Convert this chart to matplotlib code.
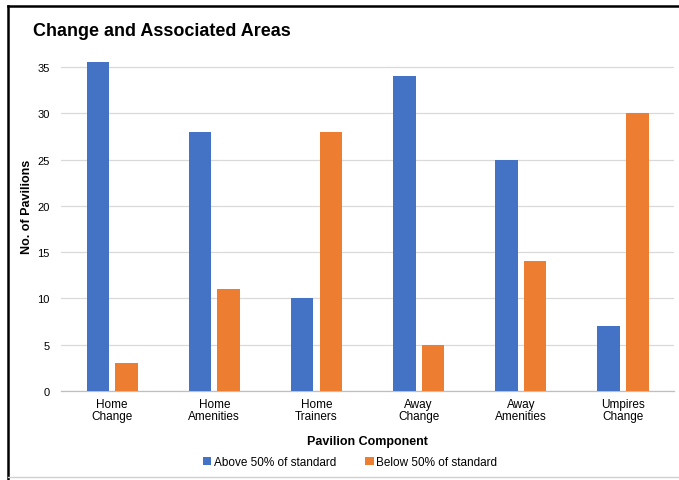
import matplotlib
matplotlib.use("Agg")
import matplotlib.pyplot as plt
import numpy as np
from matplotlib.lines import Line2D

plt.rcParams['font.family'] = ['Liberation Sans', 'DejaVu Sans']

categories = ["Home\nChange", "Home\nAmenities", "Home\nTrainers", "Away\nChange", "Away\nAmenities", "Umpires\nChange"]
above = [36, 28, 10, 34, 25, 7]
below = [3, 11, 28, 5, 14, 30]
series_names = ["Above 50% of standard", "Below 50% of standard"]
yticks = [0, 5, 10, 15, 20, 25, 30, 35]

blue = "#4472C4"
orange = "#ED7D31"

fig = plt.figure(figsize=(6.79, 4.81), dpi=100)
ax = fig.add_axes([0.0898, 0.185, 0.903, 0.683])

x = np.arange(len(categories))
w = 0.22
ax.bar(x - 0.14, above, width=w, color=blue, label=series_names[0], zorder=3)
ax.bar(x + 0.14, below, width=w, color=orange, label=series_names[1], zorder=3)

ax.set_xlim(-0.5, len(categories) - 0.5)
ax.set_ylim(0, 35.5)
ax.set_yticks(yticks)
ax.set_xticks(x)
ax.set_xticklabels(categories, fontsize=8.5, linespacing=1.05)
ax.tick_params(axis='y', labelsize=8, length=0, pad=8)
ax.tick_params(axis='x', length=0, pad=5)
ax.yaxis.grid(True, color="#D9D9D9", linewidth=0.9, zorder=0)
for s in ["top", "right", "left"]:
    ax.spines[s].set_visible(False)
ax.spines["bottom"].set_color("#BFBFBF")
ax.spines["bottom"].set_linewidth(0.9)

ax.set_ylabel("No. of Pavilions", fontsize=9, fontweight="bold")
ax.yaxis.set_label_coords(-0.045, 0.565)
ax.set_xlabel("Pavilion Component", fontsize=9, fontweight="bold", labelpad=9)

fig.text(33/679, 1 - 32/481, "Change and Associated Areas", fontsize=13, fontweight="bold", va="center", ha="left")

ax.legend(loc="center", bbox_to_anchor=(350/679, 1 - 463/481), bbox_transform=fig.transFigure,
          ncol=2, frameon=False, fontsize=8.5, handlelength=0.7, handleheight=0.7,
          handletextpad=0.2, columnspacing=2.5)

# frame lines
fig.add_artist(Line2D([8/679, 8/679], [0, 1 - 7/481], color="black", linewidth=1.8, transform=fig.transFigure))
fig.add_artist(Line2D([8/679, 1], [1 - 7/481, 1 - 7/481], color="black", linewidth=1.8, transform=fig.transFigure))
fig.add_artist(Line2D([8/679, 1], [1 - 478/481, 1 - 478/481], color="#D0D0D0", linewidth=1.0, transform=fig.transFigure))

fig.savefig("out.png", dpi=100)
